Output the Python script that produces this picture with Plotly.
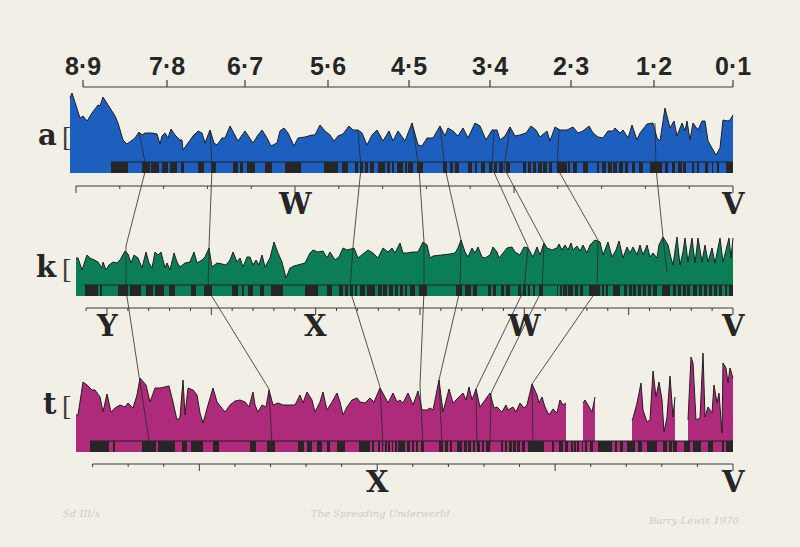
import plotly.graph_objects as go

PAPER = "#f2efe6"
INK = "#262626"
BLUE = "#1c5fbe"
GREEN = "#0b7d57"
MAGENTA = "#ae2a7b"

# ---------------- top scale ----------------
scale_labels = ["8·9", "7·8", "6·7", "5·6", "4·5", "3·4", "2·3", "1·2", "0·1"]
scale_pos = [83, 167, 245, 328, 409, 490, 571, 654, 733]

# ---------------- profile a (blue) : x position, height above baseline ----------------
a_x = [70, 72, 80, 83, 87, 92, 98, 100, 103, 108, 115, 118, 123, 127, 130, 135, 139, 142, 145, 152,
       157, 160, 162, 165, 168, 171, 175, 180, 182, 183, 188, 193, 198, 202, 205, 210, 214, 217, 222, 225,
       230, 235, 238, 245, 250, 253, 258, 262, 267, 271, 277, 280, 284, 288, 294, 298, 305, 312, 315, 320,
       325, 330, 334, 338, 343, 349, 353, 358, 362, 367, 372, 377, 383, 389, 393, 398, 405, 412, 418, 422,
       427, 433, 440, 445, 448, 453, 458, 463, 468, 475, 480, 486, 492, 497, 500, 505, 510, 515, 520, 526,
       531, 536, 540, 545, 547, 550, 555, 560, 567, 573, 578, 583, 589, 593, 598, 603, 608, 613, 615, 620,
       623, 628, 632, 637, 640, 647, 653, 657, 660, 665, 670, 674, 677, 682, 685, 687, 690, 693, 698, 702,
       705, 708, 712, 716, 720, 723, 728, 730, 733]
a_h = [75, 80, 55, 57, 52, 60, 68, 67, 76, 68, 57, 50, 33, 29, 31, 35, 41, 38, 40, 40,
       39, 29, 37, 40, 35, 44, 38, 33, 33, 23, 30, 37, 42, 40, 30, 43, 30, 28, 35, 35,
       47, 38, 32, 42, 35, 30, 38, 43, 35, 27, 30, 42, 45, 40, 27, 35, 36, 38, 38, 48,
       42, 38, 32, 37, 39, 47, 43, 43, 40, 28, 38, 43, 32, 42, 32, 42, 32, 50, 28, 27,
       35, 35, 47, 37, 45, 42, 37, 45, 35, 50, 47, 33, 43, 43, 33, 37, 46, 37, 38, 40,
       47, 43, 36, 40, 42, 32, 46, 43, 43, 46, 40, 42, 47, 40, 36, 35, 42, 42, 45, 40,
       43, 35, 48, 33, 40, 49, 50, 35, 32, 65, 45, 52, 37, 50, 42, 52, 33, 50, 43, 52,
       52, 32, 25, 18, 25, 53, 52, 53, 58]
a_bars = [(111, 128), (142, 150), (151, 159), (162, 168), (170, 177), (181, 184), (198, 204), (211, 216),
          (233, 238), (240, 243), (247, 255), (265, 272), (285, 301), (324, 338), (342, 348), (355, 358),
          (360, 363), (365, 368), (370, 374), (378, 385), (387, 390), (392, 394), (397, 403), (405, 407),
          (408, 413), (417, 423), (443, 447), (450, 453), (455, 459), (468, 472), (475, 477), (481, 485),
          (489, 492), (494, 497), (499, 503), (506, 510), (523, 526), (528, 531), (533, 536), (538, 542),
          (543, 547), (549, 552), (557, 567), (568, 570), (573, 577), (583, 588), (597, 599), (602, 606),
          (608, 612), (613, 617), (619, 623), (625, 628), (632, 635), (639, 643), (650, 662), (665, 668),
          (672, 675), (678, 682), (683, 686), (692, 694), (697, 699), (705, 708), (712, 713), (717, 719),
          (726, 733)]

# ---------------- profile k (green) ----------------
k_x = [76, 78, 82, 87, 90, 95, 98, 102, 103, 106, 109, 113, 117, 120, 125, 128, 131, 134, 138, 142,
       146, 149, 152, 155, 158, 161, 165, 167, 170, 174, 177, 180, 185, 190, 194, 197, 202, 205, 209, 212,
       217, 222, 226, 230, 233, 237, 240, 243, 247, 250, 253, 256, 259, 262, 265, 270, 274, 278, 282, 286,
       290, 294, 300, 305, 310, 313, 318, 323, 327, 330, 335, 339, 343, 347, 351, 354, 358, 363, 368, 373,
       378, 383, 388, 392, 395, 400, 403, 407, 413, 418, 423, 427, 430, 433, 443, 450, 455, 458, 461, 465,
       468, 472, 475, 478, 482, 485, 490, 493, 497, 499, 503, 507, 512, 515, 520, 524, 528, 531, 533, 537,
       540, 544, 547, 552, 557, 559, 562, 565, 568, 571, 573, 577, 580, 583, 587, 590, 595, 600, 603, 608,
       612, 616, 619, 623, 627, 630, 633, 637, 640, 643, 647, 650, 653, 657, 659, 663, 668, 671, 673, 677,
       680, 683, 685, 688, 692, 695, 698, 702, 705, 708, 712, 715, 720, 723, 727, 729, 731, 733]
k_h = [38, 38, 26, 41, 38, 36, 34, 28, 34, 26, 31, 34, 33, 36, 45, 42, 33, 41, 38, 28,
       44, 33, 28, 44, 41, 44, 28, 33, 26, 43, 34, 29, 33, 34, 44, 33, 36, 39, 48, 29,
       33, 32, 31, 36, 44, 34, 38, 29, 39, 39, 31, 36, 31, 41, 29, 38, 54, 43, 34, 18,
       28, 30, 32, 33, 43, 46, 44, 45, 38, 44, 36, 39, 48, 46, 47, 48, 38, 42, 46, 43,
       38, 48, 44, 48, 43, 53, 43, 43, 44, 44, 54, 51, 38, 40, 41, 42, 43, 48, 56, 44,
       39, 48, 43, 49, 39, 38, 41, 49, 44, 38, 43, 48, 49, 44, 41, 49, 48, 43, 39, 49,
       41, 53, 48, 46, 48, 52, 46, 51, 46, 53, 46, 50, 45, 51, 43, 51, 56, 54, 41, 54,
       39, 46, 55, 38, 49, 43, 49, 41, 51, 41, 51, 39, 43, 38, 51, 59, 51, 38, 31, 59,
       31, 44, 58, 34, 58, 33, 58, 34, 51, 34, 48, 33, 58, 34, 51, 58, 38, 58]
k_bars = [(85, 98), (100, 102), (118, 128), (130, 141), (146, 153), (155, 164), (169, 175), (191, 196),
          (204, 212), (232, 238), (242, 244), (248, 253), (260, 264), (271, 283), (305, 318), (327, 332),
          (339, 343), (345, 348), (350, 353), (355, 357), (360, 365), (367, 375), (378, 382), (383, 387),
          (389, 393), (395, 398), (400, 403), (405, 407), (410, 415), (419, 427), (456, 462), (465, 471),
          (473, 477), (488, 491), (493, 496), (501, 504), (506, 510), (518, 521), (523, 526), (528, 530),
          (533, 535), (539, 543), (557, 558), (560, 562), (563, 567), (568, 573), (575, 578), (580, 583),
          (589, 600), (602, 604), (606, 608), (613, 620), (624, 627), (629, 632), (633, 636), (638, 641),
          (643, 646), (648, 651), (653, 657), (662, 670), (673, 676), (678, 681), (683, 686), (687, 690),
          (693, 697), (699, 702), (704, 707), (709, 712), (714, 717), (719, 722), (725, 727), (729, 733)]

# ---------------- profile t (magenta), None = break in the record ----------------
t_x = [76, 78, 83, 87, 92, 95, 100, 103, 107, 111, 115, 120, 125, 128, 133, 137, 140, 146, 150, 155,
       160, 165, 169, 173, 177, 180, 183, 185, 188, 193, 197, 200, 203, 208, 213, 217, 222, 225, 230, 235,
       240, 245, 249, 253, 255, 258, 262, 266, 269, 273, 278, 283, 290, 295, 300, 303, 307, 312, 315, 320,
       323, 327, 332, 337, 340, 343, 347, 352, 357, 360, 365, 370, 374, 380, 385, 388, 393, 397, 400, 403,
       408, 413, 418, 422, 427, 430, 433, 439, 443, 449, 453, 458, 463, 466, 469, 472, 476, 480, 483, 490,
       494, 497, 502, 506, 508, 513, 516, 520, 524, 527, 532, 537, 539, 542, 545, 549, 553, 557, 560, 563,
       566, None,
       583, 585, 588, 592, 595, None,
       632, 633, 637, 641, 643, 647, 650, 653, 656, 659, 662, 664, 667, 670, 673, 675, None,
       688, 691, 693, 696, 700, 703, 705, 708, 712, 714, 717, 719, 722, 723, 726, 728, 730, 733]
t_h = [37, 37, 70, 67, 62, 62, 55, 40, 58, 40, 44, 47, 45, 49, 44, 57, 74, 67, 50, 64,
       64, 65, 66, 50, 32, 35, 72, 37, 64, 62, 57, 39, 29, 47, 64, 50, 44, 40, 47, 51,
       52, 50, 45, 60, 47, 40, 47, 45, 62, 47, 49, 47, 47, 47, 57, 49, 60, 52, 40, 50,
       60, 42, 50, 59, 50, 37, 45, 52, 54, 50, 49, 54, 50, 64, 55, 49, 59, 50, 52, 49,
       59, 47, 61, 42, 42, 44, 42, 72, 40, 63, 49, 54, 59, 52, 65, 52, 63, 45, 49, 59,
       44, 45, 40, 47, 42, 45, 40, 49, 44, 47, 68, 57, 49, 55, 45, 37, 43, 39, 52, 47,
       49, None,
       49, 52, 47, 40, 55, None,
       32, 34, 49, 69, 42, 30, 32, 81, 55, 70, 52, 20, 35, 76, 35, 55, None,
       32, 95, 89, 32, 34, 99, 35, 45, 39, 67, 49, 59, 19, 89, 84, 69, 84, 74]
t_bars = [(90, 109), (113, 115), (142, 156), (158, 175), (182, 187), (191, 203), (213, 219), (250, 256),
          (267, 275), (298, 304), (307, 312), (317, 322), (327, 330), (337, 345), (359, 370), (372, 374),
          (378, 380), (382, 383), (385, 387), (388, 390), (392, 393), (395, 397), (398, 400), (400, 405),
          (407, 410), (412, 414), (416, 418), (421, 424), (439, 443), (445, 448), (450, 452), (457, 462),
          (464, 467), (468, 471), (473, 475), (477, 480), (482, 484), (486, 490), (501, 503), (505, 507),
          (509, 512), (513, 516), (517, 520), (522, 525), (528, 544), (552, 554), (559, 563), (565, 568),
          (571, 573), (574, 576), (577, 579), (582, 583), (585, 587), (590, 593), (598, 612), (615, 617),
          (620, 623), (627, 635), (638, 642), (647, 657), (663, 667), (669, 672), (673, 677), (684, 690),
          (693, 701), (708, 713), (722, 724), (726, 733)]

# ---------------- correlation lines (x, y) ----------------
links = [
    [(139, 132), (146, 168), (126, 246), (126, 290), (139, 376), (150, 446)],
    [(210, 130), (212, 168), (209, 247), (208, 290), (269, 389), (272, 446)],
    [(358, 130), (361, 168), (353, 247), (350, 290), (380, 387), (383, 446)],
    [(412, 123), (419, 168), (424, 242), (424, 290), (420, 385), (423, 446)],
    [(440, 126), (445, 168), (461, 240), (460, 290), (439, 380), (442, 446)],
    [(494, 131), (492, 168), (528, 247), (524, 290), (476, 389), (477, 446)],
    [(510, 127), (504, 168), (544, 243), (542, 290), (491, 393), (490, 446)],
    [(559, 130), (557, 168), (598, 240), (597, 290), (532, 384), (533, 446)],
    [(655, 123), (656, 168), (663, 237), (667, 272)],
]

# ---------------- lower scales ----------------
a_axis_letters = ["W", "V"]
a_axis_letter_ticks = [5, 15]
k_axis_letters = ["Y", "X", "W", "V"]
k_axis_letter_ticks = [1, 11, 21, 31]
t_axis_letters = ["X", "V"]
t_axis_letter_ticks = [8, 18]

signatures = ["Sd III/x", "The Spreading Underworld", "Barry Lewis 1970"]

# ---------------- layout of the sheet ----------------
panels = [
    dict(name="a", x=a_x, h=a_h, bars=a_bars, color=BLUE, base=173, strip=11, strip_x0=111, label_y=135),
    dict(name="k", x=k_x, h=k_h, bars=k_bars, color=GREEN, base=296, strip=11, strip_x0=84, label_y=267),
    dict(name="t", x=t_x, h=t_h, bars=t_bars, color=MAGENTA, base=452, strip=11, strip_x0=90, label_y=404),
]
axes_cfg = [
    dict(y=186, x0=76, x1=733, n=16, long0=0, letters=a_axis_letters, lt=a_axis_letter_ticks, ly=204),
    dict(y=308, x0=86.1, x1=733, n=32, long0=1, letters=k_axis_letters, lt=k_axis_letter_ticks, ly=326),
    dict(y=464, x0=92.6, x1=733, n=19, long0=3, letters=t_axis_letters, lt=t_axis_letter_ticks, ly=482),
]

fig = go.Figure()


def segments(xs, hs, base):
    segs, cur = [], []
    for x, h in zip(xs, hs):
        if x is None:
            if cur:
                segs.append(cur)
            cur = []
        else:
            cur.append((x, base - h))
    if cur:
        segs.append(cur)
    return segs


# filled profiles
for p in panels:
    segs = segments(p["x"], p["h"], p["base"])
    px, py, lx, ly = [], [], [], []
    for s in segs:
        xs = [q[0] for q in s]
        ys = [q[1] for q in s]
        px += [xs[0]] + xs + [xs[-1], None]
        py += [p["base"]] + ys + [p["base"], None]
        lx += xs + [None]
        ly += ys + [None]
    fig.add_trace(go.Scatter(x=px, y=py, mode="lines", fill="toself", fillcolor=p["color"],
                             line=dict(width=0, color=p["color"]), hoverinfo="skip"))
    s_top = p["base"] - p["strip"]
    fig.add_trace(go.Scatter(x=[p["strip_x0"], 733, 733, p["strip_x0"]],
                             y=[s_top, s_top, p["base"], p["base"]],
                             mode="lines", fill="toself", fillcolor=p["color"],
                             line=dict(width=0), hoverinfo="skip"))
    fig.add_trace(go.Scatter(x=lx, y=ly, mode="lines", line=dict(color="#1f1f1f", width=1),
                             hoverinfo="skip"))

# correlation lines
cx, cy = [], []
for chain in links:
    cx += [q[0] for q in chain] + [None]
    cy += [q[1] for q in chain] + [None]
fig.add_trace(go.Scatter(x=cx, y=cy, mode="lines", line=dict(color="#2a2a2a", width=0.8),
                         hoverinfo="skip"))

# barcode records (each interval a filled rectangle)
for p in panels:
    s_top = p["base"] - p["strip"]
    fig.add_trace(go.Scatter(x=[p["strip_x0"], 733], y=[s_top, s_top], mode="lines",
                             line=dict(color="#222222", width=1), hoverinfo="skip"))
    bx, by = [], []
    for a, b in p["bars"]:
        bx += [a, b, b, a, a, None]
        by += [s_top, s_top, p["base"], p["base"], s_top, None]
    fig.add_trace(go.Scatter(x=bx, y=by, mode="lines", fill="toself", fillcolor="#262626",
                             line=dict(width=0, color="#262626"), hoverinfo="skip"))

# top scale
fig.add_trace(go.Scatter(x=[scale_pos[0], scale_pos[-1]], y=[87, 87], mode="lines",
                         line=dict(color="#3a3a3a", width=1.2), hoverinfo="skip"))
tx, ty = [], []
for xp in scale_pos:
    tx += [xp, xp, None]
    ty += [87, 80, None]
fig.add_trace(go.Scatter(x=tx, y=ty, mode="lines", line=dict(color="#3a3a3a", width=1.2),
                         hoverinfo="skip"))
for lab, xp in zip(scale_labels, scale_pos):
    fig.add_annotation(x=xp, y=66, text="<b>" + lab + "</b>", showarrow=False,
                       font=dict(family="Liberation Sans", size=25, color=INK),
                       xanchor="center", yanchor="middle")

# lower scales
for ax in axes_cfg:
    step = (ax["x1"] - ax["x0"]) / (ax["n"] - 1)
    fig.add_trace(go.Scatter(x=[ax["x0"], ax["x1"]], y=[ax["y"], ax["y"]], mode="lines",
                             line=dict(color="#3a3a3a", width=1.2), hoverinfo="skip"))
    tx, ty = [], []
    for k in range(ax["n"]):
        xp = ax["x0"] + k * step
        ln = 7 if (k - ax["long0"]) % 5 == 0 else 3
        tx += [xp, xp, None]
        ty += [ax["y"], ax["y"] + ln, None]
    fig.add_trace(go.Scatter(x=tx, y=ty, mode="lines", line=dict(color="#3a3a3a", width=1),
                             hoverinfo="skip"))
    for lab, k in zip(ax["letters"], ax["lt"]):
        fig.add_annotation(x=ax["x0"] + k * step, y=ax["ly"], text="<b>" + lab + "</b>",
                           showarrow=False, font=dict(family="DejaVu Serif", size=29, color=INK),
                           xanchor="center", yanchor="middle")

# panel names
for p in panels:
    fig.add_annotation(x=59, y=p["label_y"], text="<b>" + p["name"] + "</b>", showarrow=False,
                       font=dict(family="DejaVu Serif", size=29, color=INK),
                       xanchor="right", yanchor="middle")
    fig.add_annotation(x=60, y=p["label_y"] + 1, text="[", showarrow=False,
                       font=dict(family="Liberation Serif", size=28, color="#3a3a3a"),
                       xanchor="left", yanchor="middle")

# pencil inscriptions
for txt, xp, yp in zip(signatures, [82, 380, 693], [513, 513, 520]):
    fig.add_annotation(x=xp, y=yp, text="<i>" + txt + "</i>", showarrow=False,
                       font=dict(family="DejaVu Serif", size=10, color="#cfccc3"),
                       xanchor="center", yanchor="middle")

fig.update_layout(
    width=800, height=547, margin=dict(l=0, r=0, t=0, b=0),
    paper_bgcolor=PAPER, plot_bgcolor=PAPER, showlegend=False,
    xaxis=dict(range=[0, 800], visible=False, fixedrange=True),
    yaxis=dict(range=[547, 0], visible=False, fixedrange=True),
)
fig.write_html("out.html", config={"displayModeBar": False},
               post_script="document.body.style.margin='0px';"
                           "document.body.style.background='" + PAPER + "';")
